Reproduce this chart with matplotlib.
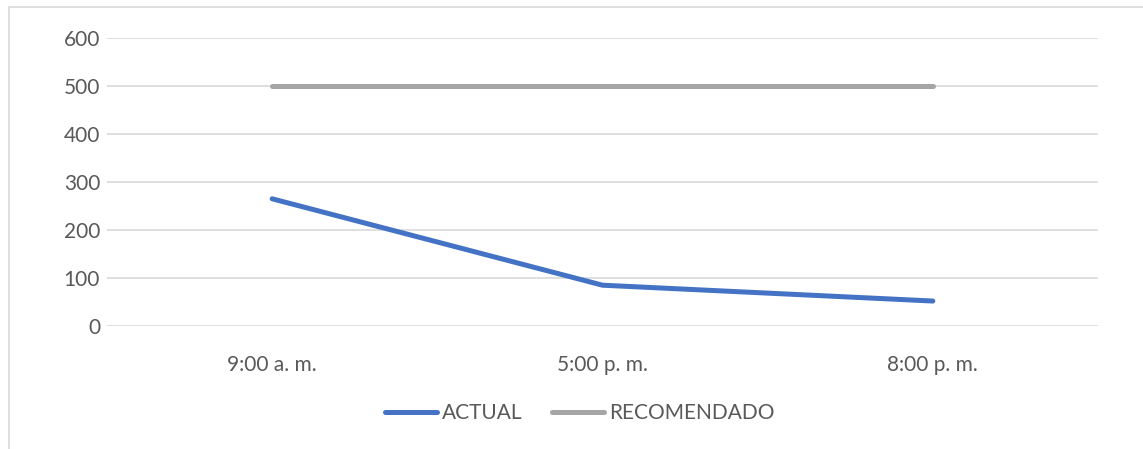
import matplotlib.pyplot as plt
from matplotlib.patches import Rectangle

# Data: waiting measurements by time of day
horas = ['9:00 a. m.', '5:00 p. m.', '8:00 p. m.']
actual = [265, 85, 52]
recomendado = [500, 500, 500]
yticks = [0, 100, 200, 300, 400, 500, 600]

W, H = 1143, 449
plt.rcParams['font.family'] = ['Lato', 'DejaVu Sans']

fig = plt.figure(figsize=(W / 100, H / 100), dpi=100)

# chart area border (runs off the right and bottom edges)
fig.patches.append(Rectangle((8.5 / W, -0.1), 1.2, 1.1 - 7.5 / H, transform=fig.transFigure,
                             fill=False, edgecolor='#D9D9D9', linewidth=1.2))

# plot area placed in pixel coordinates
x0, x1 = 107, 1098
y_top, y_bot = 38, 326
ax = fig.add_axes([x0 / W, (H - y_bot) / H, (x1 - x0) / W, (y_bot - y_top) / H])

x = range(len(horas))
ax.plot(x, actual, color='#4472C4', linewidth=3.6, solid_capstyle='round', label='ACTUAL', zorder=3)
ax.plot(x, recomendado, color='#A5A5A5', linewidth=3.6, solid_capstyle='round', label='RECOMENDADO', zorder=3)

ax.set_xlim(-0.5, len(horas) - 0.5)
ax.set_ylim(0, 600)
ax.set_yticks(yticks)
ax.set_xticks(list(x))
ax.set_xticklabels(horas)
ax.grid(axis='y', color='#D9D9D9', linewidth=1.2)
ax.set_axisbelow(True)
for s in ax.spines.values():
    s.set_visible(False)
ax.tick_params(axis='both', length=0, labelsize=15, colors='#595959')
ax.tick_params(axis='y', pad=5)
ax.tick_params(axis='x', pad=21)

leg = fig.legend(loc='center', bbox_to_anchor=(580 / W, (H - 413) / H), ncol=2, frameon=False,
                 fontsize=15, handlelength=2.5, handletextpad=0.25, columnspacing=1.4)
for t in leg.get_texts():
    t.set_color('#595959')

fig.savefig('out.png', dpi=100)
